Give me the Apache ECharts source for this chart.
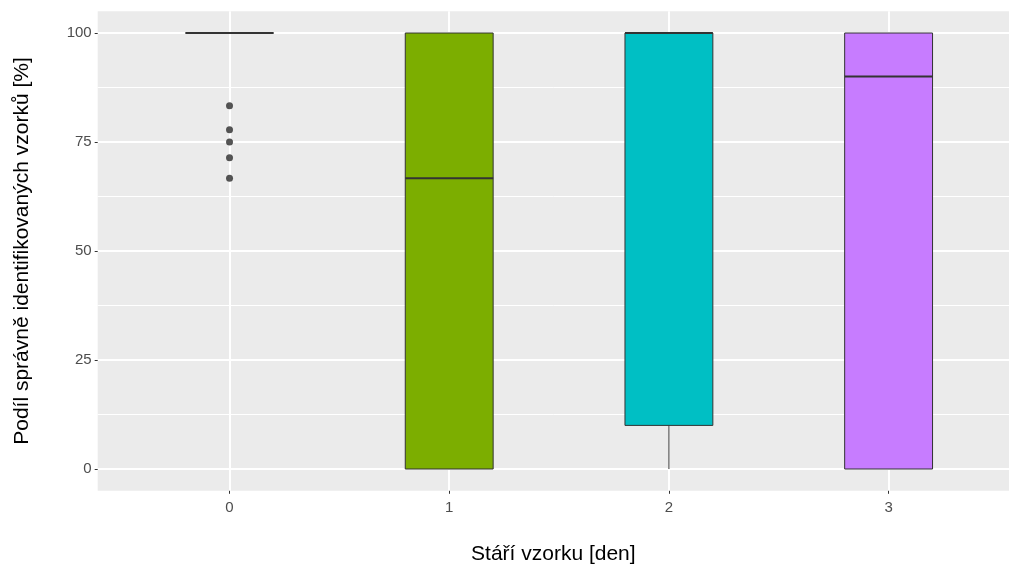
<!DOCTYPE html>
<html>
<head>
<meta charset="utf-8">
<script src="https://cdn.jsdelivr.net/npm/echarts@6/dist/echarts.min.js"></script>
<style>html,body{margin:0;padding:0;background:#fff;}#c{width:1009px;height:567px;}</style>
</head>
<body>
<div id="c"></div>
<script>
// categories (sample age in days)
const categories = ['0', '1', '2', '3'];
// box statistics per category: [min, q1, median, q3, max]
const boxMin    = [100, 0, 0, 0];
const boxQ1     = [100, 0, 10, 0];
const boxMedian = [100, 66.7, 100, 90];
const boxQ3     = [100, 100, 100, 100];
const boxMax    = [100, 100, 100, 100];
// outliers: category index and value
const outlierCat   = [0, 0, 0, 0, 0];
const outlierValue = [83.3, 77.8, 75, 71.4, 66.7];
// y ticks
const yTicks = [0, 25, 50, 75, 100];
const yMinorLines = [12.5, 37.5, 62.5, 87.5];

const fills = ['#F8766D', '#7CAE00', '#00BFC4', '#C77CFF'];
const xIdx = categories.map((c, i) => i);

const boxData = categories.map((c, i) => [i, boxMin[i], boxQ1[i], boxMedian[i], boxQ3[i], boxMax[i]]);
const outData = outlierCat.map((c, i) => [c, outlierValue[i]]);

const chart = echarts.init(document.getElementById('c'), null, {renderer: 'canvas'});
const font = 'Liberation Sans, Arial, sans-serif';

chart.setOption({
  animation: false,
  backgroundColor: '#ffffff',
  grid: {
    left: 97.7, top: 11.2, right: 0, height: 479.6,
    outerBoundsMode: 'none',
    show: true, backgroundColor: '#EBEBEB', borderWidth: 0, containLabel: false
  },
  xAxis: {
    type: 'value', min: -0.6, max: 3.548,
    axisLine: {show: false, onZero: false},
    axisTick: {show: true, length: 3, lineStyle: {color: '#333333', width: 1}, customValues: xIdx},
    axisLabel: {customValues: xIdx, color: '#4D4D4D', fontSize: 15, fontFamily: font, margin: 10,
      formatter: v => categories[Math.round(v)]},
    splitLine: {show: true, lineStyle: {color: '#ffffff', width: 2}},
    name: 'Stáří vzorku [den]', nameLocation: 'middle', nameGap: 53,
    nameTextStyle: {color: '#000000', fontSize: 21, fontFamily: font}
  },
  yAxis: {
    type: 'value', min: -5, max: 105,
    axisLine: {show: false, onZero: false},
    axisTick: {show: true, length: 3, lineStyle: {color: '#333333', width: 1}, customValues: yTicks},
    axisLabel: {customValues: yTicks, color: '#4D4D4D', fontSize: 15, fontFamily: font, margin: 6},
    splitLine: {show: true, lineStyle: {color: '#ffffff', width: 2}},
    name: 'Podíl správně identifikovaných vzorků [%]', nameLocation: 'middle', nameGap: 65,
    nameTextStyle: {color: '#000000', fontSize: 21, fontFamily: font}
  },
  series: [
    {
      type: 'line', z: 1, silent: true, data: [], symbol: 'none',
      markLine: {
        z: 1, silent: true, symbol: ['none', 'none'], label: {show: false},
        lineStyle: {color: '#ffffff', width: 1, type: 'solid'},
        emphasis: {disabled: true},
        data: yMinorLines.map(v => ({yAxis: v}))
      }
    },
    {
      type: 'custom', z: 3,
      data: boxData,
      encode: {x: 0, y: [1, 2, 3, 4, 5]},
      renderItem: function (params, api) {
        const x = api.value(0);
        const lo = api.value(1), q1 = api.value(2), med = api.value(3), q3 = api.value(4), hi = api.value(5);
        const halfW = api.size([0.4, 0])[0] / 2;
        const pLo = api.coord([x, lo]), pQ1 = api.coord([x, q1]), pMed = api.coord([x, med]);
        const pQ3 = api.coord([x, q3]), pHi = api.coord([x, hi]);
        const cx = pMed[0];
        const children = [];
        if (pHi[1] < pQ3[1]) children.push({type: 'line', shape: {x1: cx, y1: pHi[1], x2: cx, y2: pQ3[1]}, style: {stroke: '#333333', lineWidth: 1}});
        if (pLo[1] > pQ1[1]) children.push({type: 'line', shape: {x1: cx, y1: pQ1[1], x2: cx, y2: pLo[1]}, style: {stroke: '#333333', lineWidth: 1}});
        children.push({type: 'rect', shape: {x: cx - halfW, y: pQ3[1], width: 2 * halfW, height: pQ1[1] - pQ3[1]},
          style: {fill: fills[params.dataIndex], stroke: '#333333', lineWidth: 1}});
        children.push({type: 'line', shape: {x1: cx - halfW, y1: pMed[1], x2: cx + halfW, y2: pMed[1]},
          style: {stroke: '#333333', lineWidth: 2}});
        return {type: 'group', children: children};
      }
    },
    {
      type: 'scatter', z: 4,
      data: outData,
      symbol: 'circle', symbolSize: 7,
      itemStyle: {color: '#2b2b2b'}
    }
  ]
});
</script>
</body>
</html>
